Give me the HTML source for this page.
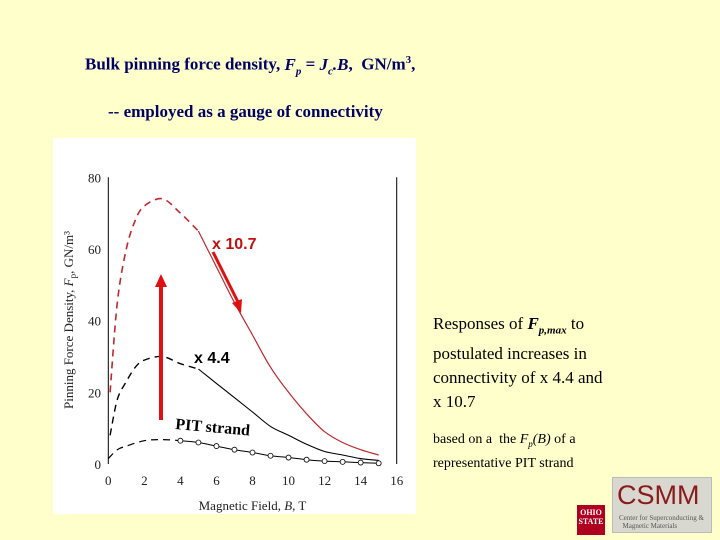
<!DOCTYPE html>
<html><head><meta charset="utf-8"><style>
body{margin:0;width:720px;height:540px;background:#ffffcc;position:relative;overflow:hidden;font-family:"Liberation Serif",serif;}
.t{position:absolute;white-space:nowrap;}
</style></head><body>
<div class="t" style="left:85px;top:54px;font-size:17px;font-weight:bold;color:#000066">Bulk pinning force density, <i>F<sub style="font-size:11px">p</sub></i> = <i>J<sub style="font-size:11px">c</sub>.B</i>, &nbsp;GN/m<sup style="font-size:11px">3</sup>,</div>
<div class="t" style="left:108px;top:102px;font-size:17px;font-weight:bold;color:#000066">-- employed as a gauge of connectivity</div>
<div class="t" style="left:433px;top:312px;font-size:17px;line-height:24px;color:#000">Responses of <b><i>F<sub style="font-size:11px">p,max</sub></i></b> to<br>postulated increases in<br>connectivity of x 4.4 and<br>x 10.7</div>
<div class="t" style="left:433px;top:430px;font-size:14px;line-height:20px;color:#000">based on a &nbsp;the <i>F<sub style="font-size:9px">p</sub>(B)</i> of a<br>representative PIT strand</div>
<div style="position:absolute;left:577px;top:505px;width:28px;height:30px;background:#b00020;color:#fff;font-size:8px;font-weight:bold;text-align:center;line-height:9px;padding-top:3px;box-sizing:border-box">OHIO<br>STATE</div>
<div style="position:absolute;left:612px;top:477px;width:100px;height:56px;background:#d8d8d0;border:1px solid #bbb;box-sizing:border-box">
<div style="font-family:'Liberation Sans',sans-serif;font-size:27px;color:#8b1a1a;position:absolute;left:4px;top:2px">CSMM</div>
<div style="font-size:7px;color:#555;position:absolute;left:6px;top:36px;line-height:8px">Center for Superconducting &amp;<br>&nbsp;&nbsp;Magnetic Materials</div></div>
<svg id="chart" width="720" height="540" style="position:absolute;left:0;top:0">
<rect x="53" y="138" width="363" height="376" fill="#fff"/>
</svg>
<script>
const xTicks=[0,2,4,6,8,10,12,14,16];
const yTicks=[0,20,40,60,80];
const pitB=[0,0.5,1,2,3,4,5,6,7,8,9,10,11,12,13,14,15];
const pitF=[1.5,4,5,6.5,6.8,6.5,6,5,4,3.2,2.3,1.8,1.2,0.8,0.6,0.4,0.2];
const curveB=[0.1,0.5,1,1.5,2,3,4,5,6,7,8,9,10,11,12,13,14,15];
const x44F=[8,18,23,27,29,30,28,26.5,22.5,18.5,14.5,10.5,8,5.5,3.5,2.5,1.5,1];
const x107F=[20,45,60,68,72,74,70,65,55,45,36,27,20,14,9,6,4,2.5];
const ns='http://www.w3.org/2000/svg';
const svg=document.getElementById('chart');
const X=v=>108.3+v*(396.7-108.3)/16;
const Y=v=>464-v*(464-177.3)/80;
function mk(t,a,name){const e=document.createElementNS(ns,t);for(const k in a)e.setAttribute(k,a[k]);


svg.appendChild(e);return e;}
mk('line',{x1:X(0),y1:Y(0),x2:X(0),y2:Y(80),stroke:'#000','stroke-width':1},'y-axis');
mk('line',{x1:X(16),y1:Y(0),x2:X(16),y2:Y(80),stroke:'#000','stroke-width':1},'right-axis');
xTicks.forEach(v=>{const t=mk('text',{x:X(v),y:485,'text-anchor':'middle','font-size':13,'font-family':'Liberation Serif',fill:'#222'},'x-tick-label');t.textContent=v;});
yTicks.forEach(v=>{const t=mk('text',{x:101,y:Y(v)+5,'text-anchor':'end','font-size':13,'font-family':'Liberation Serif',fill:'#222'},'y-tick-label');t.textContent=v;});
let t=mk('text',{x:X(8),y:510,'text-anchor':'middle','font-size':13,'font-family':'Liberation Serif',fill:'#222'},'x-axis-title');t.innerHTML='Magnetic Field, <tspan font-style="italic">B</tspan>, T';
t=mk('text',{x:0,y:0,transform:'translate(73,320) rotate(-90)','text-anchor':'middle','font-size':13,'font-family':'Liberation Serif',fill:'#222'},'y-axis-title');t.innerHTML='Pinning Force Density, <tspan font-style="italic">F</tspan><tspan font-size="9" dy="3">p</tspan><tspan dy="-3">, GN/m³</tspan>';
function path(bs,fs,from,to,dash,color,w,name){const p=[];for(let i=0;i<bs.length;i++){if(bs[i]<from||bs[i]>to)continue;p.push([X(bs[i]),Y(fs[i])]);}
let d='M'+p[0][0].toFixed(1)+','+p[0][1].toFixed(1);
for(let i=0;i<p.length-1;i++){const p0=p[i-1]||p[i],p1=p[i],p2=p[i+1],p3=p[i+2]||p2;
const c1=[p1[0]+(p2[0]-p0[0])/6,p1[1]+(p2[1]-p0[1])/6],c2=[p2[0]-(p3[0]-p1[0])/6,p2[1]-(p3[1]-p1[1])/6];
d+='C'+c1.map(v=>v.toFixed(1)).join(',')+' '+c2.map(v=>v.toFixed(1)).join(',')+' '+p2.map(v=>v.toFixed(1)).join(',');}
const a={d:d,fill:'none',stroke:color,'stroke-width':w};if(dash)a['stroke-dasharray']=dash;mk('path',a,name);}
path(curveB,x107F,0,5,'7,5','#c0282c',1.6,'x10.7-dashed');
path(curveB,x107F,5,15,null,'#c0282c',1.2,'x10.7-solid');
path(curveB,x44F,0,5,'7,5','#000',1.4,'x4.4-dashed');
path(curveB,x44F,5,15,null,'#000',1.1,'x4.4-solid');
path(pitB,pitF,0,4,'7,5','#000',1.2,'pit-dashed');
path(pitB,pitF,4,15,null,'#000',1,'pit-solid');
pitB.forEach((b,i)=>{if(b>=4)mk('circle',{cx:X(b),cy:Y(pitF[i]),r:2.5,fill:'#fff',stroke:'#000','stroke-width':0.8},'pit-point');});
mk('line',{x1:161,y1:420,x2:161,y2:285,stroke:'#e01010','stroke-width':4},'up-arrow');
mk('polygon',{points:'155,287 167,287 161,274',fill:'#e01010'},'up-arrow-head');
mk('line',{x1:213,y1:252,x2:238,y2:302,stroke:'#e01010','stroke-width':3},'diag-arrow');
mk('polygon',{points:'232,303 242,299 241,313',fill:'#e01010'},'diag-arrow-head');
t=mk('text',{x:212,y:249,'font-size':16,'font-weight':'bold','font-family':'Liberation Sans',fill:'#c01010'},'label-x10.7');t.textContent='x 10.7';
t=mk('text',{x:194,y:363,'font-size':16,'font-weight':'bold','font-family':'Liberation Sans',fill:'#000'},'label-x4.4');t.textContent='x 4.4';
t=mk('text',{x:0,y:0,transform:'translate(175,429) rotate(5)','font-size':16,'font-weight':'bold','font-family':'Liberation Serif',fill:'#000'},'label-pit-strand');t.textContent='PIT strand';
</script>
</body></html>
